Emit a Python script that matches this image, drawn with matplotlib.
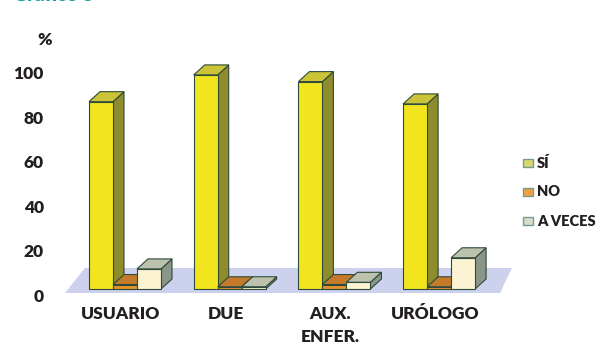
import matplotlib.pyplot as plt
import matplotlib.transforms as mtransforms
from matplotlib.patches import Polygon, Rectangle
import numpy as np

categories = ["USUARIO", "DUE", "AUX.\nENFER.", "URÓLOGO"]
series = ["SÍ", "NO", "A VECES"]
si = [84, 96, 93, 83]
no = [2, 1, 2, 1]
a_veces = [9, 1, 3, 14]
yticks = [0, 20, 40, 60, 80, 100]

values = [si, no, a_veces]
front_cols = ["#f2e51e", "#e8922a", "#fbf3d2"]
top_cols = ["#cbc436", "#c47a2a", "#bcc2ae"]
side_cols = ["#8e8c2c", "#a0601e", "#8a968a"]
leg_cols = ["#d8d870", "#f0a040", "#d8dcc8"]
edge = "#2e4a3a"

plt.rcParams['font.family'] = ['Lato', 'DejaVu Sans']
wt = "heavy"

W, H = 611, 361
fig = plt.figure(figsize=(W / 100, H / 100), dpi=100)
ax = fig.add_axes([0, 0, 1, 1])
px = 2.23          # pixels per percent
base = 289         # pixel row of the bars' front bottom
ax.set_xlim(0, W)
ax.set_ylim(-(H - base) / px, base / px)
ax.axis("off")

dx = 11            # depth offset in pixels
dy = 10 / px       # depth offset in value units
bw = 24
group_x = 89 + np.arange(len(categories)) * 104.7

# floor
floor = Polygon([(65, -4 / px), (500, -4 / px), (512, 21 / px), (85, 21 / px)],
                closed=True, facecolor="#ccd1ee", edgecolor="none", zorder=1)
ax.add_patch(floor)

for j, vals in enumerate(values):
    xs = group_x + j * bw
    ax.bar(xs, vals, width=bw, align="edge", color=front_cols[j],
           edgecolor=edge, linewidth=0.8, zorder=3 + 2 * j)
    for x, v in zip(xs, vals):
        top = Polygon([(x, v), (x + bw, v), (x + bw + dx, v + dy), (x + dx, v + dy)],
                      closed=True, facecolor=top_cols[j], edgecolor=edge,
                      linewidth=0.8, zorder=2 + 2 * j)
        side = Polygon([(x + bw, 0), (x + bw + dx, dy), (x + bw + dx, v + dy), (x + bw, v)],
                       closed=True, facecolor=side_cols[j], edgecolor=edge,
                       linewidth=0.8, zorder=2 + 2 * j)
        ax.add_patch(side)
        ax.add_patch(top)

# y tick labels, shifted a little below the bar scale like the original
shift = mtransforms.ScaledTranslation(0, -0.08, fig.dpi_scale_trans)
for t in yticks:
    ax.text(44, t, str(t), ha="right", va="center", fontsize=12.5,
            fontweight=wt, color="#231f20", transform=ax.transData + shift)
ax.text(45, (base - 40) / px, "%", ha="center", va="center", fontsize=12.5,
        fontweight=wt, color="#231f20")

# category labels
for x, name in zip(group_x, categories):
    ax.text(x + 32, (base - 306) / px, name, ha="center", va="top",
            fontsize=12.5, fontweight=wt, color="#231f20", linespacing=1.55)

# legend
for j, name in enumerate(series):
    yc = 163 + j * 29
    ax.add_patch(Rectangle((523, (base - yc - 4) / px), 10, 8 / px,
                           facecolor=leg_cols[j], edgecolor="#7a9a90", linewidth=1))
    ax.text(537, (base - yc) / px, name, ha="left", va="center", fontsize=10.5,
            fontweight=wt, color="#231f20")

# title, cut off by the top of the image
fig.text(13 / W, 1 - 1 / H, "Gráfico 3", ha="left", va="baseline", fontsize=14,
         fontweight=wt, color="#1a9a9a")

fig.savefig("out.png", dpi=100)
